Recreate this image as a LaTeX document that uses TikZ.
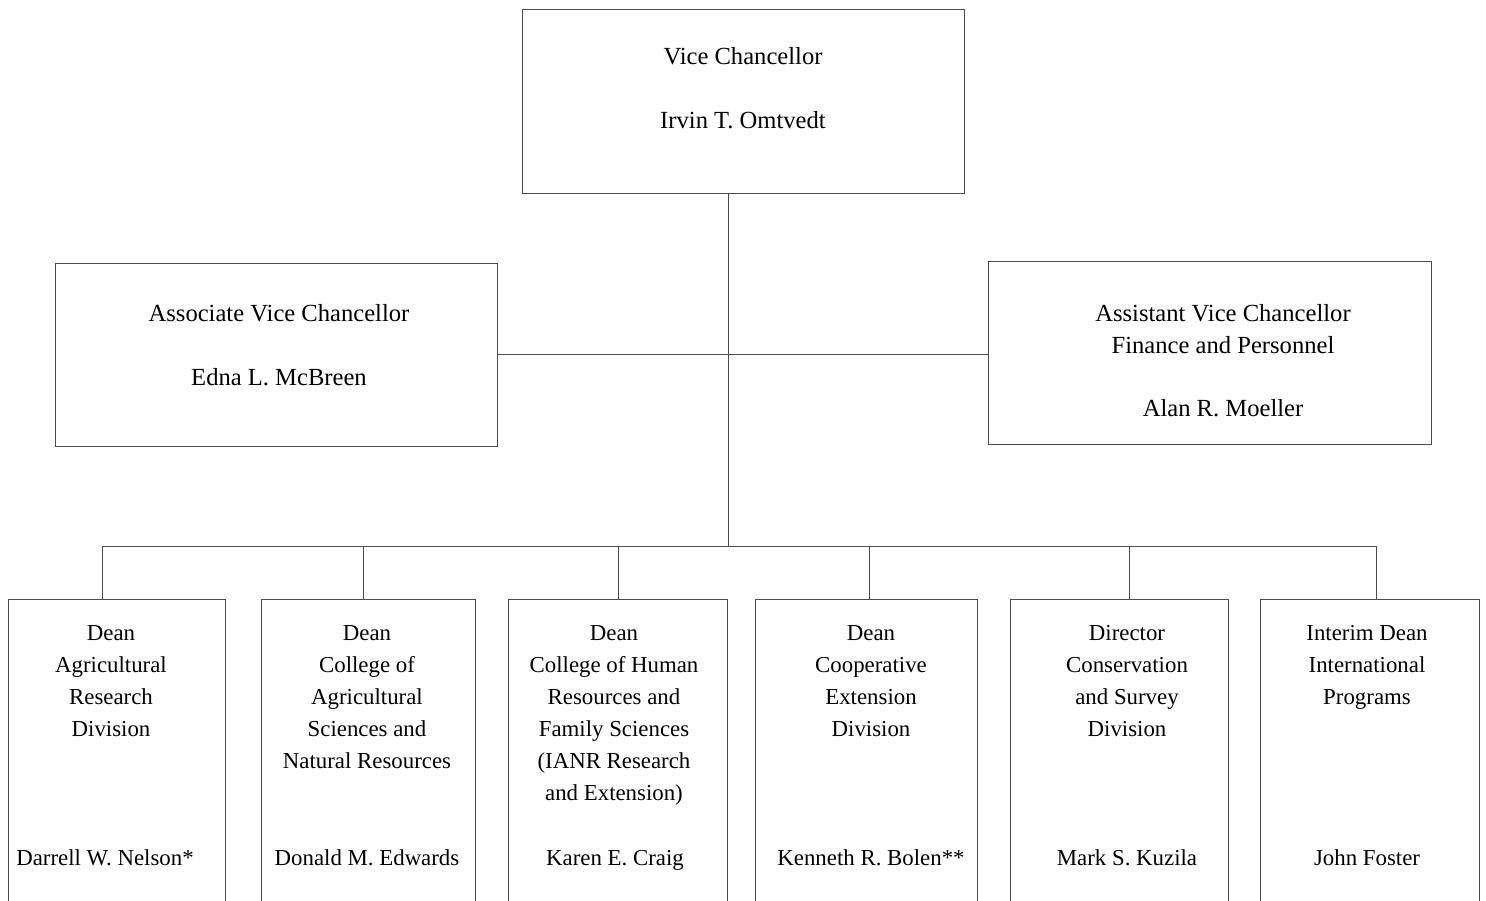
\documentclass[tikz,border=0pt]{standalone}
\usepackage{fontspec}
\setmainfont{Liberation Serif}
\usepackage{tikz}
\usetikzlibrary{positioning}

\begin{document}
\begin{tikzpicture}[x=0.02cm, y=-0.02cm,
  font=\fontsize{14}{18.2}\selectfont,
  box/.style={draw=black!70, line width=0.5pt, inner sep=0pt},
  unit/.style={box, minimum height=7.22cm},
  txt/.style={align=center, inner sep=0pt},
  utxt/.style={txt, font=\fontsize{13}{18.2}\selectfont},
  link/.style={draw=black!70, line width=0.5pt}]
\useasboundingbox (0,0) rectangle (1486,901);
\clip (0,0) rectangle (1486,901);
% top and second level
\node[box, minimum width=8.84cm, minimum height=3.68cm] (vc) at (743,101) {};
\node[txt, anchor=north] (vctext) at (743,47) {Vice Chancellor\\[18pt]Irvin T. Omtvedt};
\node[box, minimum width=8.84cm, minimum height=3.66cm] (assoc) at (276,354.5) {};
\node[txt, anchor=north] (assoctext) at (279,304) {Associate Vice Chancellor\\[18pt]Edna L. McBreen};
\node[box, minimum width=8.86cm, minimum height=3.66cm] (asst) at (1209.5,352.5) {};
\node[txt, anchor=north] (assttext) at (1223,304) {Assistant Vice Chancellor\\Finance and Personnel\\[18pt]Alan R. Moeller};
% units (boxes run off the bottom edge)
\node[unit, minimum width=4.34cm] (u1) at (116.5,779.5) {};
\node[unit, minimum width=4.28cm] (u2) at (368,779.5) {};
\node[unit, minimum width=4.38cm] (u3) at (617.5,779.5) {};
\node[unit, minimum width=4.44cm] (u4) at (866,779.5) {};
\node[unit, minimum width=4.36cm] (u5) at (1119,779.5) {};
\node[unit, minimum width=4.38cm] (u6) at (1369.5,779.5) {};
\node[utxt, anchor=north] (u1t) at (111,625) {Dean\\Agricultural\\Research\\Division};
\node[utxt, anchor=north] (u2t) at (367,625) {Dean\\College of\\Agricultural\\Sciences and\\Natural Resources};
\node[utxt, anchor=north] (u3t) at (614,625) {Dean\\College of Human\\Resources and\\Family Sciences\\(IANR Research\\and Extension)};
\node[utxt, anchor=north] (u4t) at (871,625) {Dean\\Cooperative\\Extension\\Division};
\node[utxt, anchor=north] (u5t) at (1127,625) {Director\\Conservation\\and Survey\\Division};
\node[utxt, anchor=north] (u6t) at (1367,625) {Interim Dean\\International\\Programs};
\node[utxt, anchor=base] (u1n) at (105,865) {Darrell W. Nelson*};
\node[utxt, anchor=base] (u2n) at (367,865) {Donald M. Edwards};
\node[utxt, anchor=base] (u3n) at (615,865) {Karen E. Craig};
\node[utxt, anchor=base] (u4n) at (871,865) {Kenneth R. Bolen**};
\node[utxt, anchor=base] (u5n) at (1127,865) {Mark S. Kuzila};
\node[utxt, anchor=base] (u6n) at (1367,865) {John Foster};
% connectors
\coordinate (hub) at (728,546);
\draw[link] (hub |- vc.south) -- (hub);
\draw[link] (assoc.east) -- (assoc.east -| asst.west);
\coordinate (d1) at (102,546);
\coordinate (d2) at (363,546);
\coordinate (d3) at (618,546);
\coordinate (d4) at (869,546);
\coordinate (d5) at (1129,546);
\coordinate (d6) at (1376,546);
\draw[link] (d1) -- (d6);
\draw[link] (d1) -- (d1 |- u1.north);
\draw[link] (d2) -- (d2 |- u2.north);
\draw[link] (d3) -- (d3 |- u3.north);
\draw[link] (d4) -- (d4 |- u4.north);
\draw[link] (d5) -- (d5 |- u5.north);
\draw[link] (d6) -- (d6 |- u6.north);
\end{tikzpicture}
\end{document}
